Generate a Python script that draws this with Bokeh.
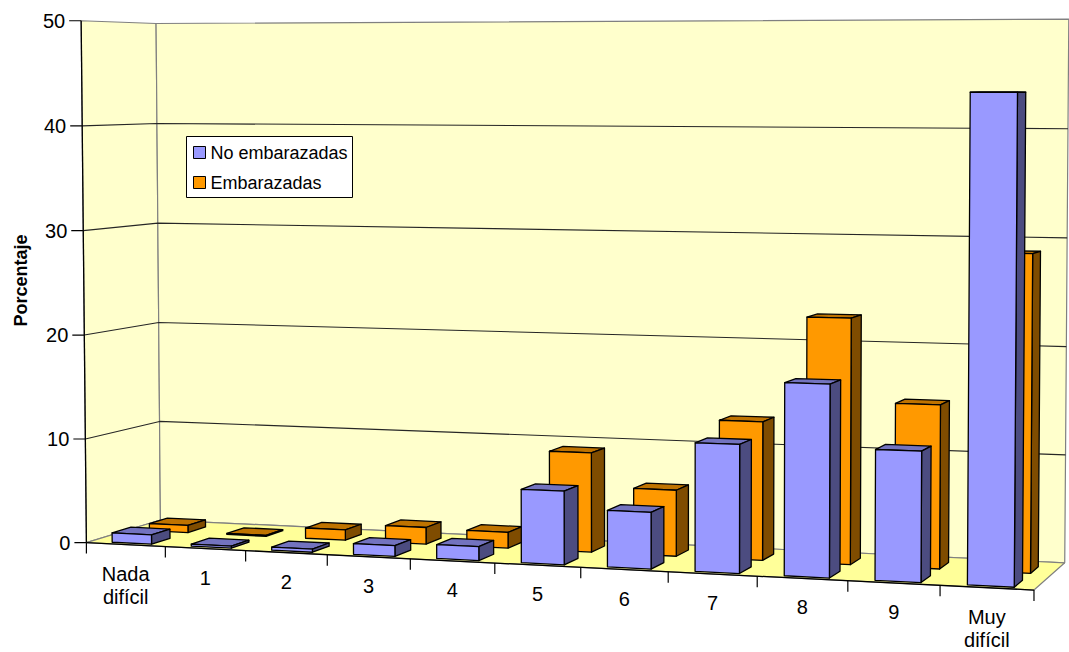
import numpy as np
from bokeh.plotting import figure
from bokeh.models import Range1d
from bokeh.embed import file_html
from bokeh.resources import INLINE
from bokeh.core.properties import value

# ---------------- data ----------------
categories = ["Nada\ndifícil", "1", "2", "3", "4", "5", "6", "7", "8", "9", "Muy\ndifícil"]
no_embarazadas = [0.9, 0.2, 0.3, 1.0, 1.3, 6.8, 5.2, 11.7, 17.4, 11.7, 43.4]
embarazadas = [0.7, 0.1, 1.0, 1.6, 1.5, 9.4, 6.2, 12.9, 22.7, 15.0, 28.9]
y_ticks = [0, 10, 20, 30, 40, 50]
series_names = ["No embarazadas", "Embarazadas"]
y_title = "Porcentaje"

# ---------------- 3-D view (perspective camera, calibrated on the box) ----------------
NCAT = len(categories)
YMAX = y_ticks[-1]
# (category position, value, depth 0=front 1=back) -> screen pixel of the box corners
calib = [
    (0, 0, 0, 86, 542), (0, 50, 0, 81, 20), (0, 10, 0, 85, 438), (0, 40, 0, 81, 126),
    (0, 0, 1, 160, 521), (0, 50, 1, 156, 23), (0, 10, 1, 159, 420), (0, 40, 1, 156, 123),
    (11, 50, 1, 1068, 19), (11, 40, 1, 1068, 128), (11, 10, 1, 1065, 454), (11, 0, 1, 1064, 562),
    (11, 0, 0, 1034, 589), (5, 0, 0, 494, 562), (6, 0, 0, 580, 567), (7, 0, 0, 668, 572),
    (10, 0, 0, 939, 586), (1, 0, 0, 165, 546), (2, 0, 0, 245, 550), (3, 0, 0, 327, 554),
    (4, 0, 0, 410, 558),
]


def _w(X, Y, Z):
    return [X, Y / 10.0, Z * 5.0, 1.0]


A = []
for X, Y, Z, u, v in calib:
    u, v = u / 500.0, v / 500.0
    w = _w(X, Y, Z)
    A.append(w + [0, 0, 0, 0] + [-u * c for c in w])
    A.append([0, 0, 0, 0] + w + [-v * c for c in w])
_, _, Vt = np.linalg.svd(np.array(A, float))
P = Vt[-1].reshape(3, 4)


def proj(X, Y, Z):
    h = P @ np.array(_w(X, Y, Z))
    return h[0] / h[2] * 500.0, h[1] / h[2] * 500.0


def poly(pts):
    xy = [proj(*q) for q in pts]
    return [q[0] for q in xy], [q[1] for q in xy]


FONT = value("Liberation Sans")

p = figure(width=1069, height=652, x_range=Range1d(0, 1069), y_range=Range1d(652, 0),
           output_backend="svg", toolbar_location=None, x_axis_type=None, y_axis_type=None,
           min_border=0)
p.outline_line_color = None
p.grid.visible = False
p.background_fill_color = "white"

# walls and floor
xs, ys, fills = [], [], []
for pts, col in [
    ([(0, 0, 0), (0, YMAX, 0), (0, YMAX, 1), (0, 0, 1)], "#FFFFCC"),
    ([(0, 0, 1), (0, YMAX, 1), (NCAT, YMAX, 1), (NCAT, 0, 1)], "#FFFFCC"),
    ([(0, 0, 0), (NCAT, 0, 0), (NCAT, 0, 1), (0, 0, 1)], "#FFFF99"),
]:
    x, y = poly(pts)
    xs.append(x); ys.append(y); fills.append(col)
p.patches(xs, ys, fill_color=fills, line_color="#808080", line_width=1.2)

# gridlines
gx, gy = [], []
for v in y_ticks[1:-1]:
    x, y = poly([(0, v, 0), (0, v, 1), (NCAT, v, 1)])
    gx.append(x); gy.append(y)
p.multi_line(gx, gy, line_color="#262626", line_width=1.1)

# axis lines
x, y = poly([(0, 0, 0), (0, YMAX, 0)])
p.line(x, y, line_color="black", line_width=1.3)
x, y = poly([(0, 0, 0), (NCAT, 0, 0)])
p.line(x, y, line_color="black", line_width=1.3)

# value ticks and labels
tx, ty, lx, ly, lt = [], [], [], [], []
for v in y_ticks:
    px_, py_ = proj(0, v, 0)
    tx.append([px_ - 12, px_]); ty.append([py_, py_])
    lx.append(px_ - 16); ly.append(py_); lt.append(str(v))
p.multi_line(tx, ty, line_color="black", line_width=1.2)
p.text(lx, ly, text=lt, text_font=FONT, text_font_size="20px", text_align="right",
       text_baseline="middle", text_color="black")

# category ticks and labels
tx, ty, lx, ly, lt = [], [], [], [], []
for i in range(NCAT + 1):
    px_, py_ = proj(i, 0, 0)
    tx.append([px_, px_]); ty.append([py_, py_ + 11])
for i, c in enumerate(categories):
    px_, py_ = proj(i + 0.5, 0, 0)
    for k, part in enumerate(c.split("\n")):
        lx.append(px_); ly.append(py_ + 29 + 23 * k); lt.append(part)
p.multi_line(tx, ty, line_color="black", line_width=1.2)
p.text(lx, ly, text=lt, text_font=FONT, text_font_size="20px", text_align="center",
       text_baseline="middle", text_color="black")

# bars (painter's order: back row first, left to right)
BAR_X = (0.27, 0.77)
rows = [
    (embarazadas, (0.56, 0.81), ("#FF9900", "#7F4C00", "#BF7300")),
    (no_embarazadas, (0.06, 0.31), ("#9999FF", "#4C4C80", "#7373BF")),
]
bx, by, bc = [], [], []
for vals, (z0, z1), (cf, cs, ct) in rows:
    for i, val in enumerate(vals):
        x0, x1 = i + BAR_X[0], i + BAR_X[1]
        for pts, col in [
            ([(x0, val, z0), (x1, val, z0), (x1, val, z1), (x0, val, z1)], ct),
            ([(x1, 0, z0), (x1, val, z0), (x1, val, z1), (x1, 0, z1)], cs),
            ([(x0, 0, z0), (x1, 0, z0), (x1, val, z0), (x0, val, z0)], cf),
        ]:
            x, y = poly(pts)
            bx.append(x); by.append(y); bc.append(col)
p.patches(bx, by, fill_color=bc, line_color="black", line_width=1.3, line_join="round")

# y title
p.text([20], [280], text=[y_title], angle=np.pi / 2, text_font=FONT, text_font_size="18px",
       text_font_style="bold", text_align="center", text_baseline="middle", text_color="black")

# legend
p.quad(left=[186], right=[352], top=[136], bottom=[197], fill_color="white",
       line_color="black", line_width=1)
leg_cols = [rows[1][2][0], rows[0][2][0]]
leg_y = [152, 182]
p.quad(left=[193, 193], right=[205, 205], top=[yy - 6 for yy in leg_y],
       bottom=[yy + 6 for yy in leg_y], fill_color=leg_cols, line_color="black", line_width=1)
p.text([210, 210], leg_y, text=series_names, text_font=FONT, text_font_size="18px",
       text_align="left", text_baseline="middle", text_color="black")

open("out.html", "w").write(file_html(p, INLINE))
